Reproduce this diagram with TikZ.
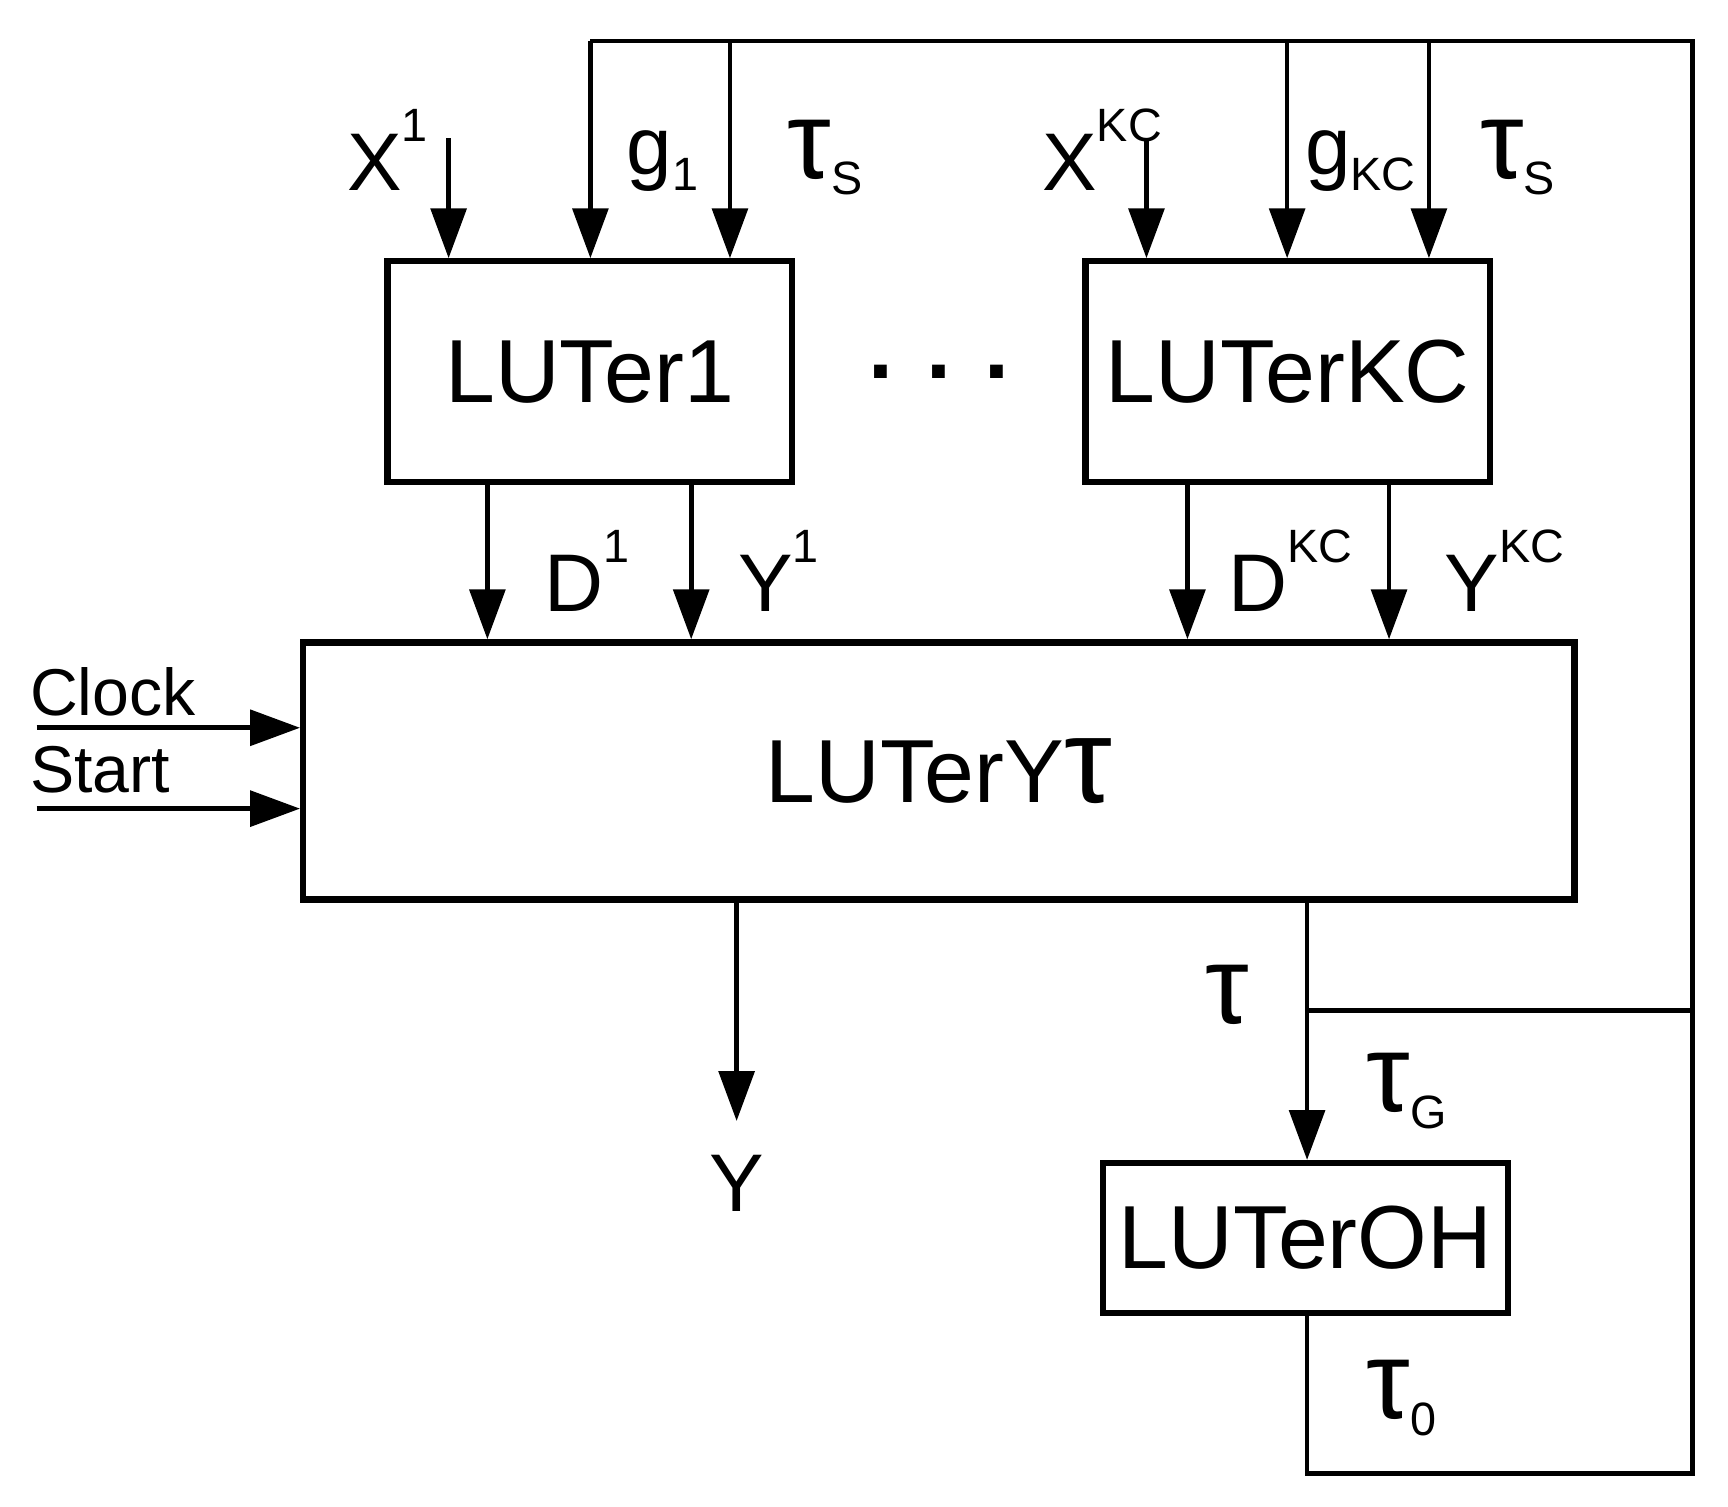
\documentclass[tikz,border=0pt]{standalone}
\usepackage{fontspec}
\setmainfont{Liberation Sans}
\usetikzlibrary{arrows.meta}
\newcommand{\mysup}[1]{\raisebox{0.6em}{\fontsize{12}{12}\selectfont #1}}
\newcommand{\mysub}[1]{\raisebox{-0.2em}{\fontsize{12}{12}\selectfont #1}}
\newcommand{\mytau}{\scalebox{1.35}{τ}}
\begin{document}
\begin{tikzpicture}[x=0.01cm,y=-0.01cm,line width=1.2pt,
  box/.style={draw,line width=1.6pt,inner sep=0pt},
  arr/.style={-{Triangle[length=0.45cm,width=0.32cm]}},
  lab/.style={font=\fontsize{21}{21}\selectfont},
  big/.style={font=\fontsize{23}{23}\selectfont}]
\useasboundingbox (0,0) rectangle (1560,1360);
\node[box,minimum width=3.65cm,minimum height=1.99cm,big] (L1) at (532.5,335.5) {LUTer1};
\node[box,minimum width=3.65cm,minimum height=1.99cm,big] (LK) at (1162.5,335.5) {LUTerKC};
\node[box,minimum width=11.47cm,minimum height=2.32cm,big] (LY) at (847.5,696) {LUTerY\mytau};
\node[box,minimum width=3.65cm,minimum height=1.35cm,big] (LO) at (1178.5,1117.5) {LUTerOH};
\node[big] (dots) at (848,336) {\textbf{. . .}};
% feedback bus
\coordinate (t1) at (533,37); \coordinate (t2) at (659,37);
\coordinate (t3) at (1162,37); \coordinate (t4) at (1290,37);
\coordinate (tr) at (1528,37); \coordinate (mr) at (1528,912);
\coordinate (br) at (1528,1330); \coordinate (bl) at (1180,1330);
\coordinate (mj) at (1180,912);
\draw (t1) -- (tr) -- (br) -- (bl) -- (LO.south -| bl);
\draw (mj) -- (mr);
\draw[arr] (t1) -- (t1 |- L1.north);
\draw[arr] (t2) -- (t2 |- L1.north);
\draw[arr] (t3) -- (t3 |- LK.north);
\draw[arr] (t4) -- (t4 |- LK.north);
\coordinate (x1) at (405,125); \coordinate (xk) at (1035,125);
\draw[arr] (x1) -- (x1 |- L1.north);
\draw[arr] (xk) -- (xk |- LK.north);
% outputs
\coordinate (d1) at (440,435); \coordinate (y1) at (624,435);
\coordinate (dk) at (1072,435); \coordinate (yk) at (1254,435);
\draw[arr] (d1) -- (d1 |- LY.north);
\draw[arr] (y1) -- (y1 |- LY.north);
\draw[arr] (dk) -- (dk |- LY.north);
\draw[arr] (yk) -- (yk |- LY.north);
\coordinate (ck) at (33,657); \coordinate (st) at (33,730);
\draw[arr] (ck) -- (ck -| LY.west);
\draw[arr] (st) -- (st -| LY.west);
\coordinate (yo) at (665,812); \coordinate (ye) at (665,1012);
\draw[arr] (yo) -- (ye);
\coordinate (to) at (1180,812);
\draw[arr] (to) -- (to |- LO.north);
% labels
\node[lab] (lx1) at (350,135) {X\mysup{1}};
\node[lab] (lg1) at (598,145) {g\mysub{1}};
\node[lab] (lt1) at (745,142) {\mytau\mysub{S}};
\node[lab] (lxk) at (995,135) {X\mysup{KC}};
\node[lab] (lgk) at (1228,145) {g\mysub{KC}};
\node[lab] (ltk) at (1370,142) {\mytau\mysub{S}};
\node[lab] (ld1) at (530,515) {D\mysup{1}};
\node[lab] (ly1) at (703,515) {Y\mysup{1}};
\node[lab] (ldk) at (1165,515) {D\mysup{KC}};
\node[lab] (lyk) at (1358,515) {Y\mysup{KC}};
\node[lab] (lt) at (1108,898) {\mytau};
\node[lab] (ltg) at (1270,985) {\mytau\mysub{G}};
\node[lab] (lt0) at (1265,1262) {\mytau\mysub{0}};
\node[lab] (ly) at (665,1068) {Y};
\node[font=\fontsize{17}{17}\selectfont,anchor=west,inner sep=0pt] (lc) at (25,625) {Clock};
\node[font=\fontsize{17}{17}\selectfont,anchor=west,inner sep=0pt] (ls) at (25,695) {Start};
\end{tikzpicture}
\end{document}
